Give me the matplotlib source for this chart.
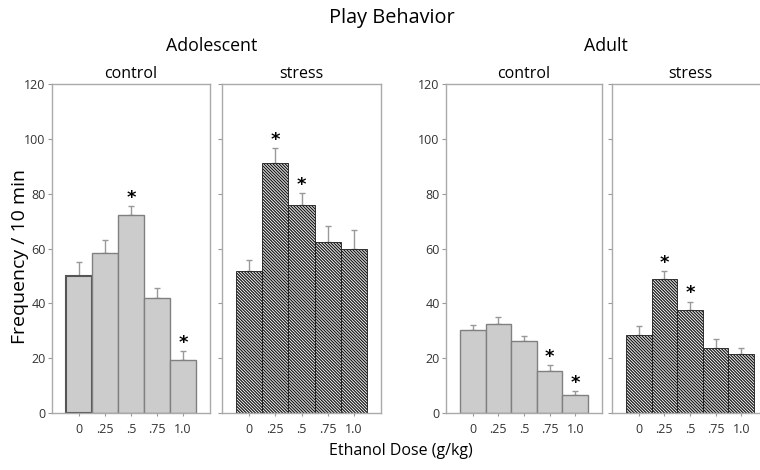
import numpy as np
import matplotlib.pyplot as plt

plt.rcParams['font.family'] = ['Open Sans', 'DejaVu Sans']
plt.rcParams['hatch.linewidth'] = 0.9

doses = ['0', '.25', '.5', '.75', '1.0']

# means and upper error (mean + sem)
adol_ctrl = [49.8, 58.3, 72.4, 41.9, 19.3]
adol_ctrl_err = [55.0, 63.0, 75.4, 45.7, 22.7]
adol_str = [51.9, 91.2, 75.8, 62.4, 59.9]
adol_str_err = [55.7, 96.6, 80.2, 68.1, 66.7]
adult_ctrl = [30.3, 32.5, 26.1, 15.3, 6.6]
adult_ctrl_err = [32.0, 35.0, 28.2, 17.6, 7.9]
adult_str = [28.5, 49.0, 37.7, 23.8, 21.5]
adult_str_err = [31.6, 51.8, 40.6, 27.0, 23.8]

# which doses got an asterisk
adol_ctrl_sig = [2, 4]
adol_str_sig = [1, 2]
adult_ctrl_sig = [3, 4]
adult_str_sig = [1, 2]

panels = [
    (adol_ctrl, adol_ctrl_err, adol_ctrl_sig, 'control', False, True),
    (adol_str, adol_str_err, adol_str_sig, 'stress', True, False),
    (adult_ctrl, adult_ctrl_err, adult_ctrl_sig, 'control', False, True),
    (adult_str, adult_str_err, adult_str_sig, 'stress', True, False),
]
lefts = [52, 222, 446, 612]
widths = [158, 159, 156, 156]

W, H = 760, 470
fig = plt.figure(figsize=(W / 100, H / 100), dpi=100)

for k, ((vals, err, sig, name, hatched, labels), l, w) in enumerate(zip(panels, lefts, widths)):
    ax = fig.add_axes([l / W, 1 - 413 / H, w / W, 329 / H])
    x = np.arange(len(vals))
    yerr = np.array(err) - np.array(vals)
    ax.errorbar(x, vals, yerr=[np.zeros(len(vals)), yerr], fmt='none',
                ecolor='#999999', elinewidth=1, capsize=2.5, capthick=1, zorder=1)
    if hatched:
        ax.bar(x, vals, width=1, color='white', edgecolor='#1a1a1a',
               hatch='\\' * 11, linewidth=0.6, zorder=2)
    else:
        bars = ax.bar(x, vals, width=1, color='#cccccc', edgecolor='#808080',
                      linewidth=1, zorder=2)
        if k == 0:
            bars[0].set_edgecolor('#555555')
            bars[0].set_linewidth(1.5)
    for i in sig:
        ax.text(x[i], err[i] + 3.0, '*', ha='center', va='center',
                fontsize=13, fontweight='bold', family='DejaVu Sans')
    ax.set_xlim(-1.04, 5.04)
    ax.set_ylim(0, 120)
    ax.set_yticks(range(0, 121, 20))
    ax.set_xticks(x)
    ax.set_xticklabels(doses)
    if not labels:
        ax.set_yticklabels([])
    ax.tick_params(axis='y', direction='out', length=3, color='#999999',
                   labelsize=9, labelcolor='#333333', pad=1.5)
    ax.tick_params(axis='x', direction='out', length=2.5, color='#999999',
                   labelsize=9, labelcolor='#333333', pad=5)
    for s in ax.spines.values():
        s.set_color('#aaaaaa')
        s.set_linewidth(1)
    ax.set_title(name, fontsize=11.5, pad=4)

fig.text(392 / W, 1 - 18 / H, 'Play Behavior', ha='center', va='center', fontsize=14.3)
fig.text(212 / W, 1 - 46 / H, 'Adolescent', ha='center', va='center', fontsize=12.8)
fig.text(606 / W, 1 - 46 / H, 'Adult', ha='center', va='center', fontsize=12.8)
fig.text(401 / W, 1 - 451 / H, 'Ethanol Dose (g/kg)', ha='center', va='center', fontsize=11.5)
fig.text(20 / W, 1 - 257 / H, 'Frequency / 10 min', ha='center', va='center',
         rotation=90, fontsize=14)

fig.savefig('out.png', dpi=100)
